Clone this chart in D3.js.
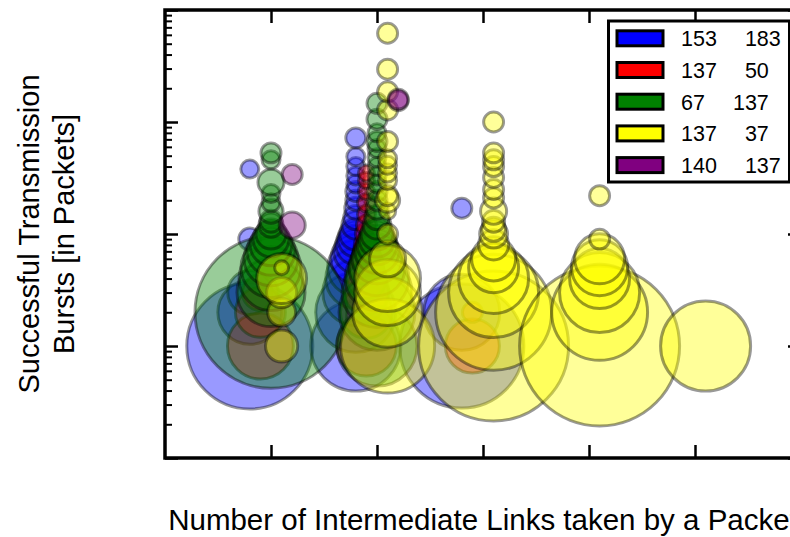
<!DOCTYPE html>
<html><head><meta charset="utf-8">
<script src="https://cdn.jsdelivr.net/npm/d3@7"></script>
<style>body{margin:0;background:#fff}svg{display:block;font-family:"Liberation Sans",Arial,Helvetica,sans-serif}</style>
</head><body><svg id="chart" width="790" height="537"></svg>
<script>
// ---------- data ----------
const hopTicks = [1, 2, 3, 4, 5];
const burstDecades = [0.1, 1, 10, 100, 1000];
const seriesKeys = ["blue", "red", "green", "yellow", "purple"];
const seriesColors = ["#0000ff", "#ff0000", "#008000", "#ffff00", "#800080"];
const seriesShift = [-0.2, -0.1, 0, 0.1, 0.2];
const legendFirst = ["153", "137", "67", "137", "140"];
const legendSecond = ["183", "50", "137", "37", "137"];
const xLabel = "Number of Intermediate Links taken by a Packet";
const yLabelLines = ["Successful Transmission", "Bursts [in Packets]"];

// [hops, burst length (packets), relative frequency]
const blueData = [
  [1,1,49],[1,2,12.6],[1,3,6],[1,9,1.5],[1,38,1],
  [2,1,25],[2,2,19.8],[2,3,13.4],[2,4,11.1],[2,5,9.7],[2,6,7.7],[2,7,6],[2,8,4.9],[2,9,4],[2,10,3.2],
  [2,12,2.4],[2,14,1.8],[2,17,1.5],[2,20,1.23],[2,24,1.23],[2,28,1],[2,33,1],[2,40,1],[2,49,1],[2,72,1.23],
  [3,1,47.5],[3,2,17.8],[3,17,1.23]
];
const redData = [
  [1,1,13.4],[1,2,7.7],[1,3,4],
  [2,1,11.1],[2,2,8.3],[2,3,6],[2,4,4.9],[2,5,3.6],[2,6,2.8],[2,7,2.1],[2,8,1.8],[2,10,1.5],[2,12,1.23],
  [2,15,1],[2,19,1],[2,24,0.8],[2,30,0.8],[2,35,0.8],
  [3,1,9],[3,2,1.23]
];
const greenData = [
  [1,2,71.3],[1,3,14.3],[1,4,12.6],[1,5,11.1],[1,6,9],[1,7,7.1],[1,8,5.4],[1,9,4],[1,10,2.8],[1,12,1.8],
  [1,13,1.5],[1,16,1.8],[1,19,1],[1,23,1],[1,29,2.1],[1,46,1],[1,53,1.23],
  [2,1,19.8],[2,2,17.8],[2,3,15.1],[2,4,12.6],[2,5,9.7],[2,6,7.7],[2,7,6],[2,8,4.9],[2,9,4],[2,10,3.2],
  [2,12,2.4],[2,14,1.8],[2,17,1.5],[2,20,1.23],[2,24,1.23],[2,28,1],[2,33,1],[2,40,1],[2,48,1],[2,58,1],
  [2,67,1.23],[2,80,1],[2,106,1.23],[2,147,1.23]
];
const yellowData = [
  [1,1,3.2],[1,2,2.4],[1,3,2.8],[1,4,7.7],[1,5,0.6],
  [2,1,27.3],[2,2,15.1],[2,3,13.4],[2,4,13.4],[2,6,4],[2,10,1.23],[2,16,0.8],[2,20,1.78],[2,22,1.23],
  [2,30,1],[2,35,1],[2,41,1],[2,47,1],[2,67,1.23],[2,128,1.23],[2,186,1.23],[2,296,1.23],[2,620,1.23],
  [3,1,69.4],[3,2,41.5],[3,3,25],[3,4,15.1],[3,5,7.7],[3,6,6],[3,8,2.8],[3,10,2.4],[3,11,1.78],[3,13,1.5],
  [3,16,2.1],[3,21,1.23],[3,25,1.23],[3,32,1.23],[3,40,1.23],[3,46,1.23],[3,53,1.23],[3,100,1.23],
  [4,1,79],[4,2,28.4],[4,3,19.8],[4,4,11.1],[4,5,9.7],[4,6,7.7],[4,9,1.23],[4,22,1.23],
  [5,1,25]
];
const purpleData = [
  [1,12,2.1],[1,34,1.23],[2,155,1.23],[2,160,1.23]
];
const allSeries = [blueData, redData, greenData, yellowData, purpleData];

// ---------- layout ----------
const plot = {left: 165, right: 801, top: 10, bottom: 458};
const svg = d3.select("#chart");

const x = d3.scaleLinear().domain([0, 6]).range([plot.left, plot.right]);
const y = d3.scaleLog().domain([0.1, 1000]).range([plot.bottom, plot.top]);
const r = d3.scaleSqrt().domain([0, 1]).range([0, 9]);

svg.append("defs").append("clipPath").attr("id", "clip")
  .append("rect").attr("x", plot.left).attr("y", plot.top)
  .attr("width", plot.right - plot.left).attr("height", plot.bottom - plot.top);

const bubbles = svg.append("g").attr("clip-path", "url(#clip)");
allSeries.forEach((data, i) => {
  bubbles.append("g").selectAll("circle").data(data).join("circle")
    .attr("cx", d => x(d[0] + seriesShift[i]))
    .attr("cy", d => y(d[1]))
    .attr("r", d => r(d[2]))
    .attr("fill", seriesColors[i]).attr("fill-opacity", 0.4)
    .attr("stroke", "#000").attr("stroke-opacity", 0.4).attr("stroke-width", 3);
});

// ---------- axes (ticks inward, no labels) ----------
const minorVals = [];
burstDecades.slice(0, -1).forEach(d => { for (let k = 2; k <= 9; k++) minorVals.push(d * k); });

function styleAxis(g, w) {
  g.select(".domain").remove();
  g.selectAll("line").attr("stroke", "#000").attr("stroke-width", w);
  g.selectAll("text").remove();
}
svg.append("g").attr("transform", `translate(${plot.left},0)`)
  .call(d3.axisLeft(y).tickValues(burstDecades).tickSizeInner(-13).tickSizeOuter(0).tickFormat(""))
  .call(g => styleAxis(g, 2.5));
svg.append("g").attr("transform", `translate(${plot.left},0)`)
  .call(d3.axisLeft(y).tickValues(minorVals).tickSizeInner(-7).tickSizeOuter(0).tickFormat(""))
  .call(g => styleAxis(g, 2));
svg.append("g").attr("transform", `translate(${plot.right},0)`)
  .call(d3.axisRight(y).tickValues(burstDecades).tickSizeInner(-13).tickSizeOuter(0).tickFormat(""))
  .call(g => styleAxis(g, 2.5));
svg.append("g").attr("transform", `translate(${plot.right},0)`)
  .call(d3.axisRight(y).tickValues(minorVals).tickSizeInner(-7).tickSizeOuter(0).tickFormat(""))
  .call(g => styleAxis(g, 2));
svg.append("g").attr("transform", `translate(0,${plot.bottom})`)
  .call(d3.axisBottom(x).tickValues(hopTicks).tickSizeInner(-13).tickSizeOuter(0).tickFormat(""))
  .call(g => styleAxis(g, 2.5));
svg.append("g").attr("transform", `translate(0,${plot.top})`)
  .call(d3.axisTop(x).tickValues(hopTicks).tickSizeInner(-13).tickSizeOuter(0).tickFormat(""))
  .call(g => styleAxis(g, 2.5));

svg.append("rect").attr("x", plot.left).attr("y", plot.top)
  .attr("width", plot.right - plot.left).attr("height", plot.bottom - plot.top)
  .attr("fill", "none").attr("stroke", "#000").attr("stroke-width", 3.5);

// ---------- labels ----------
svg.append("text").attr("x", (plot.left + plot.right) / 2).attr("y", 530)
  .attr("text-anchor", "middle").attr("font-size", 29.5).attr("fill", "#000").text(xLabel);

const yl = svg.append("text").attr("transform", `translate(0,${(plot.top + plot.bottom) / 2}) rotate(-90)`)
  .attr("text-anchor", "middle").attr("font-size", 29).attr("fill", "#000");
yLabelLines.forEach((t, i) => yl.append("tspan").attr("x", 0).attr("y", 39 + i * 35).text(t));

// ---------- legend ----------
const lg = svg.append("g");
lg.append("rect").attr("x", 608.5).attr("y", 21).attr("width", 181).attr("height", 161)
  .attr("fill", "#fff").attr("stroke", "#000").attr("stroke-width", 3);
seriesKeys.forEach((k, i) => {
  const cy = 38.3 + i * 31.7;
  lg.append("rect").attr("x", 617).attr("y", cy - 7.5).attr("width", 46).attr("height", 15)
    .attr("fill", seriesColors[i]).attr("stroke", "#000").attr("stroke-width", 3);
  const t = lg.append("text").attr("x", 681).attr("y", cy + 8).attr("font-size", 21.5).attr("fill", "#000");
  t.append("tspan").text(legendFirst[i]);
  t.append("tspan").attr("dx", 28).text(legendSecond[i]);
});
</script></body></html>
